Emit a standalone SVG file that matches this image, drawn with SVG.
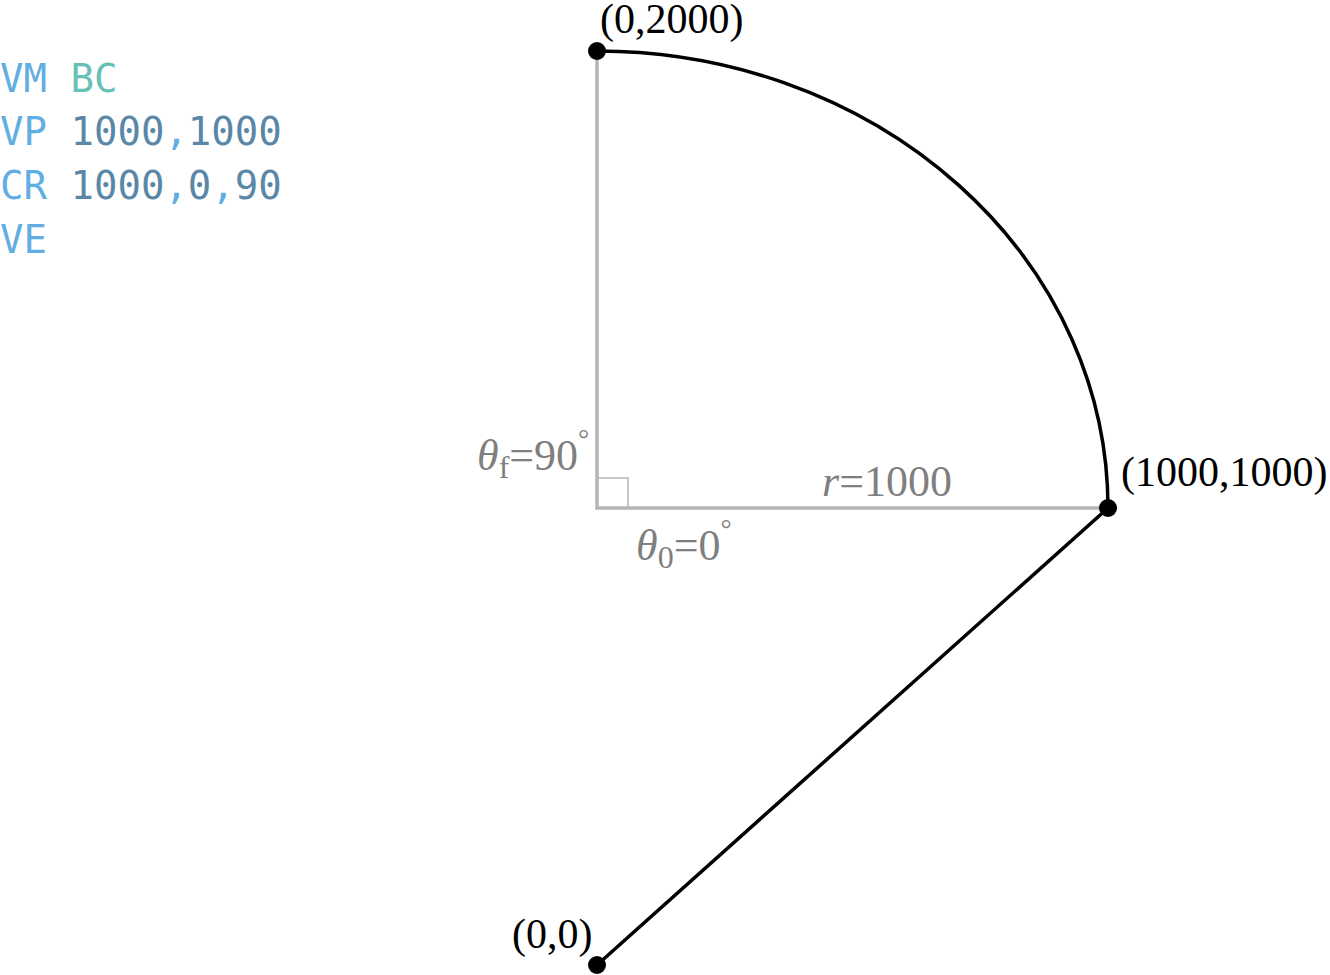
<svg xmlns="http://www.w3.org/2000/svg" width="1330" height="975" viewBox="0 0 1330 975">
<style>
.code{font-family:"DejaVu Sans Mono",monospace;font-size:39px}
.kw{fill:#62aee2}
.bc{fill:#68c1b6}
.num{fill:#5a87a8}
.lbl{font-family:"Liberation Serif",serif;font-size:42px;fill:#000}
.g{font-family:"Liberation Serif",serif;font-size:44px;fill:#7f7f7f}
.guide{stroke:#b5b5b5;stroke-width:3.5;fill:none}
.path{stroke:#000;stroke-width:3.5;fill:none}
.dot{fill:#000}
</style>
<rect width="1330" height="975" fill="#fff"/>
<g id="code">
<text class="code" x="0" y="92"><tspan class="kw">VM</tspan> <tspan class="bc">BC</tspan></text>
<text class="code" x="0" y="145"><tspan class="kw">VP</tspan> <tspan class="num">1000</tspan><tspan class="kw">,</tspan><tspan class="num">1000</tspan></text>
<text class="code" x="0" y="199"><tspan class="kw">CR</tspan> <tspan class="num">1000</tspan><tspan class="kw">,</tspan><tspan class="num">0</tspan><tspan class="kw">,</tspan><tspan class="num">90</tspan></text>
<text class="code" x="0" y="253"><tspan class="kw">VE</tspan></text>
</g>
<g id="guides">
<path class="guide" d="M597,51 V508 H1108"/>
<rect x="597" y="478" width="31" height="30" fill="none" stroke="#b5b5b5" stroke-width="1.5"/>
<text class="g" x="477" y="470"><tspan font-style="italic">θ</tspan><tspan font-size="32" dy="8">f</tspan><tspan dy="-8">=90</tspan><tspan font-size="28" dy="-22">°</tspan></text>
<text class="g" x="636" y="560"><tspan font-style="italic">θ</tspan><tspan font-size="32" dy="8">0</tspan><tspan dy="-8">=0</tspan><tspan font-size="28" dy="-22">°</tspan></text>
<text class="g" x="822" y="496"><tspan font-style="italic">r</tspan>=1000</text>
</g>
<g id="connectors">
<path class="path" d="M1108,508 A511,457 0 0 0 597,51"/>
<path class="path" d="M1108,508 L597,965"/>
</g>
<g id="node-top">
<circle class="dot" cx="597" cy="51" r="9"/>
<text class="lbl" x="600" y="33">(0,2000)</text>
</g>
<g id="node-right">
<circle class="dot" cx="1108" cy="508" r="9"/>
<text class="lbl" x="1121" y="486">(1000,1000)</text>
</g>
<g id="node-origin">
<circle class="dot" cx="597" cy="965" r="9"/>
<text class="lbl" x="512" y="948">(0,0)</text>
</g>
</svg>
